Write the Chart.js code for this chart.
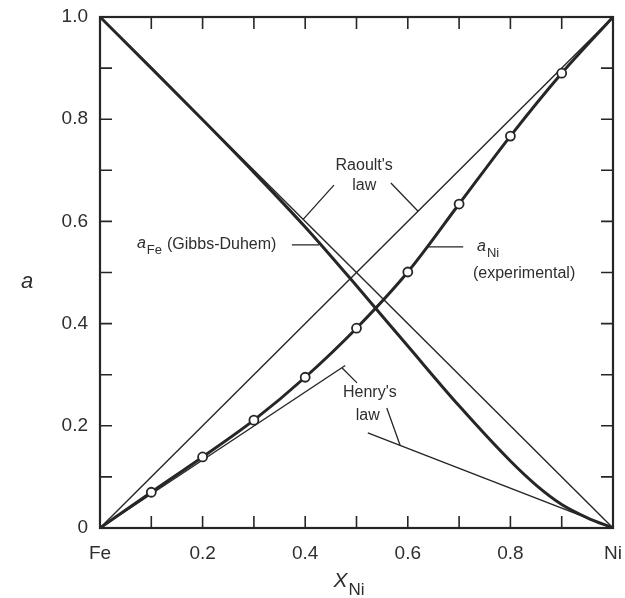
<!DOCTYPE html>
<html>
<head>
<meta charset="utf-8">
<script src="https://cdn.jsdelivr.net/npm/chart.js@4.4.1/dist/chart.umd.min.js"></script>
<style>
  html, body { margin: 0; padding: 0; background: #fff; }
  #wrap { width: 625px; height: 598px; position: relative; }
</style>
</head>
<body>
<div id="wrap"><canvas id="actChart"></canvas></div>
<script>
// mole fraction of Ni and measured activity of Ni
const xNi = [0, 0.1, 0.2, 0.3, 0.4, 0.5, 0.6, 0.7, 0.8, 0.9, 1];
const aNiExp = [0, 0.07, 0.139, 0.211, 0.295, 0.391, 0.501, 0.634, 0.767, 0.89, 1];

// activity of Fe from Gibbs-Duhem integration
const xGD = [0, 0.1, 0.2, 0.3, 0.4, 0.5, 0.6, 0.7, 0.8, 0.85, 0.9, 0.95, 1];
const aFeGD = [1, 0.9, 0.799, 0.696, 0.589, 0.474, 0.356, 0.239, 0.131, 0.084, 0.046, 0.02, 0];

// ideal lines
const raoultX = [0, 1];
const raoultNi = [0, 1];
const raoultFe = [1, 0];
const henryNiX = [0, 0.478];
const henryNiA = [0, 0.318];
const henryFeX = [0.522, 1];
const henryFeA = [0.186, 0];

const ink = '#262626';
const txt = '#2e2e2e';
const fam = '"Liberation Sans", Arial, Helvetica, sans-serif';

function pts(xs, ys) {
    return xs.map((v, i) => ({x: v, y: ys[i]}));
}

// callout texts and leader lines (data coords)
const notes = [
    {text: "Raoult's", x: 0.515, y: 0.701},
    {text: 'law', x: 0.515, y: 0.661},
    {text: "Henry's", x: 0.526, y: 0.256},
    {text: 'law', x: 0.522, y: 0.211}
];
const leaders = [
    [0.456, 0.671, 0.396, 0.604],
    [0.567, 0.675, 0.62, 0.62],
    [0.374, 0.554, 0.427, 0.554],
    [0.64, 0.55, 0.708, 0.55],
    [0.501, 0.284, 0.472, 0.313],
    [0.559, 0.235, 0.585, 0.162]
];

function subText(ctx, x, y, main, sub, size, italicMain) {
    ctx.textAlign = 'left';
    ctx.textBaseline = 'alphabetic';
    ctx.font = (italicMain ? 'italic ' : '') + size + 'px ' + fam;
    ctx.fillText(main, x, y);
    const w = ctx.measureText(main).width;
    ctx.font = Math.round(size * 0.8) + 'px ' + fam;
    ctx.fillText(sub, x + w + 1, y + size * 0.38);
    return x + w + 1 + ctx.measureText(sub).width;
}

const overlay = {
    id: 'overlay',
    afterDraw(chart) {
        const {ctx, chartArea: ca, scales: {x, y}} = chart;
        ctx.save();
        ctx.strokeStyle = ink;
        ctx.lineWidth = 2.2;
        ctx.strokeRect(ca.left, ca.top, ca.right - ca.left, ca.bottom - ca.top);

        // inward ticks on all four sides
        ctx.lineWidth = 1.6;
        ctx.beginPath();
        x.ticks.forEach(t => {
            if (t.value <= 0.001 || t.value >= 0.999) return;
            const px = x.getPixelForValue(t.value);
            ctx.moveTo(px, ca.bottom); ctx.lineTo(px, ca.bottom - 12);
            ctx.moveTo(px, ca.top); ctx.lineTo(px, ca.top + 12);
        });
        y.ticks.forEach(t => {
            if (t.value <= 0.001 || t.value >= 0.999) return;
            const py = y.getPixelForValue(t.value);
            ctx.moveTo(ca.left, py); ctx.lineTo(ca.left + 12, py);
            ctx.moveTo(ca.right, py); ctx.lineTo(ca.right - 12, py);
        });
        ctx.stroke();

        // leader lines
        ctx.lineWidth = 1.3;
        ctx.beginPath();
        leaders.forEach(s => {
            ctx.moveTo(x.getPixelForValue(s[0]), y.getPixelForValue(s[1]));
            ctx.lineTo(x.getPixelForValue(s[2]), y.getPixelForValue(s[3]));
        });
        ctx.stroke();

        ctx.fillStyle = txt;
        ctx.font = '16px ' + fam;
        ctx.textAlign = 'center';
        ctx.textBaseline = 'alphabetic';
        notes.forEach(n => {
            ctx.fillText(n.text, x.getPixelForValue(n.x), y.getPixelForValue(n.y));
        });

        // a_Fe (Gibbs-Duhem)
        let ex = subText(ctx, x.getPixelForValue(0.072), y.getPixelForValue(0.548), 'a', 'Fe', 16, true);
        ctx.font = '16px ' + fam;
        ctx.fillText('(Gibbs-Duhem)', ex + 5, y.getPixelForValue(0.546));

        // a_Ni (experimental)
        subText(ctx, x.getPixelForValue(0.735), y.getPixelForValue(0.542), 'a', 'Ni', 16, true);
        ctx.font = '16px ' + fam;
        ctx.fillText('(experimental)', x.getPixelForValue(0.727), y.getPixelForValue(0.489));

        // axis titles
        ctx.font = 'italic 22px ' + fam;
        ctx.textAlign = 'center';
        ctx.fillText('a', 27, y.getPixelForValue(0.47));
        subText(ctx, x.getPixelForValue(0.455), 587, 'X', 'Ni', 21, true);
        ctx.restore();
    }
};

function tickLabel(v, ends) {
    const k = Math.round(v * 10);
    if (k === 0) return ends[0];
    if (k === 10) return ends[1];
    return k % 2 === 0 ? (k / 10).toFixed(1) : '';
}

const thin = {showLine: true, pointRadius: 0, borderColor: ink, borderWidth: 1.4, fill: false};

const chart = new Chart(document.getElementById('actChart'), {
    type: 'scatter',
    data: {
        datasets: [
            {
                label: 'aNi',
                data: pts(xNi, aNiExp),
                showLine: true,
                borderColor: ink,
                borderWidth: 3,
                cubicInterpolationMode: 'monotone',
                pointRadius: c => (c.dataIndex === 0 || c.dataIndex === xNi.length - 1) ? 0 : 4.5,
                pointBackgroundColor: '#fff',
                pointBorderColor: ink,
                pointBorderWidth: 1.8
            },
            {
                label: 'aFe',
                data: pts(xGD, aFeGD),
                showLine: true,
                borderColor: ink,
                borderWidth: 3,
                cubicInterpolationMode: 'monotone',
                pointRadius: 0
            },
            Object.assign({label: 'raoultNi', data: pts(raoultX, raoultNi)}, thin),
            Object.assign({label: 'raoultFe', data: pts(raoultX, raoultFe)}, thin),
            Object.assign({label: 'henryNi', data: pts(henryNiX, henryNiA)}, thin),
            Object.assign({label: 'henryFe', data: pts(henryFeX, henryFeA)}, thin)
        ]
    },
    plugins: [overlay],
    options: {
        responsive: true,
        maintainAspectRatio: false,
        animation: false,
        layout: {padding: {left: 0, right: 12, top: 17, bottom: 0}},
        plugins: {
            legend: {display: false},
            tooltip: {enabled: false}
        },
        scales: {
            x: {
                type: 'linear',
                min: 0,
                max: 1,
                grid: {display: false, drawTicks: false},
                border: {display: false},
                afterFit: s => { s.height = 70; s.paddingLeft = 0; s.paddingRight = 0; },
                ticks: {
                    stepSize: 0.1,
                    autoSkip: false,
                    maxRotation: 0,
                    padding: 14,
                    color: txt,
                    font: {family: fam, size: 19},
                    callback: v => tickLabel(v, ['Fe', 'Ni'])
                }
            },
            y: {
                type: 'linear',
                min: 0,
                max: 1,
                grid: {display: false, drawTicks: false},
                border: {display: false},
                afterFit: s => { s.width = 100; s.paddingTop = 0; s.paddingBottom = 0; },
                ticks: {
                    stepSize: 0.1,
                    autoSkip: false,
                    padding: 12,
                    color: txt,
                    font: {family: fam, size: 19},
                    callback: v => tickLabel(v, ['0', '1.0'])
                }
            }
        }
    }
});
</script>
</body>
</html>
